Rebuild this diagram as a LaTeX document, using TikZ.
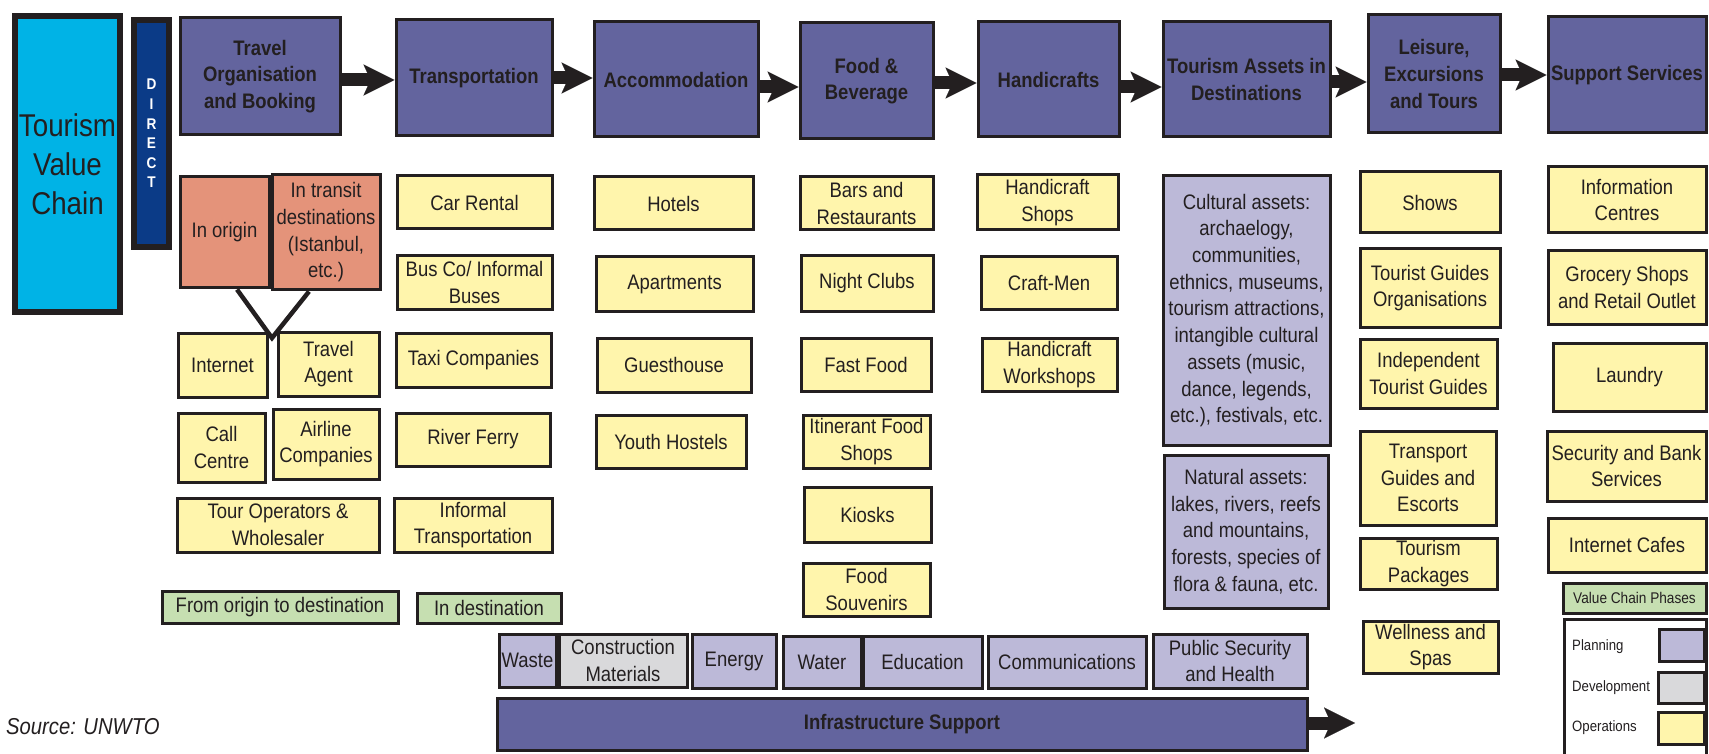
\documentclass[tikz,border=0pt]{standalone}
\usepackage{fontspec}
\setmainfont[FakeStretch=0.88]{Liberation Sans}
\usetikzlibrary{arrows.meta}
\definecolor{topc}{HTML}{63649E}
\definecolor{plan}{HTML}{BCB9D8}
\definecolor{yel}{HTML}{FFF5AC}
\definecolor{sal}{HTML}{E4937A}
\definecolor{grn}{HTML}{C6DFB1}
\definecolor{gry}{HTML}{D9D9DB}
\definecolor{cyanc}{HTML}{00B3E6}
\definecolor{navy}{HTML}{0B3B87}
\definecolor{txt}{HTML}{231F20}
\newcommand\fs[2]{\fontsize{#1}{#2}\selectfont}
\newcommand\bx[7]{\node[#2,minimum width={(#5)-(#3)},minimum height={(#6)-(#4)}] (#1) at ({((#3)+(#5))/2},{((#4)+(#6))/2}) {#7};}
\tikzset{
  base/.style={draw=txt,line width=3pt,inner sep=1pt,align=center,text=txt,font=\fs{21}{26.7}},
  topbox/.style={base,fill=topc,font=\fs{21}{26.7}\bfseries},
  yb/.style={base,fill=yel},
  pb/.style={base,fill=plan},
  gb/.style={base,fill=gry},
  sb/.style={base,fill=sal},
  grb/.style={base,fill=grn},
  bigarrow/.style={draw=txt,line width=13pt,-{Stealth[length=31pt,width=31pt,inset=7pt,line width=0.1pt]}},
  vline/.style={draw=txt,line width=4.5pt},
  legtext/.style={anchor=west,inner sep=0pt,text=txt,font=\fs{15}{18}}
}
\begin{document}
\begin{tikzpicture}[x=1pt,y=-1pt]
\useasboundingbox (0,0) rectangle (1709,754);
\fill[white] (0,0) rectangle (1709,754);
% left labels
\bx{tvc}{base,fill=cyanc,line width=6pt,inner sep=0pt,font=\fs{31.5}{39}}{15}{16}{120}{312}{Tourism\\Value\\Chain}
\bx{direct}{base,fill=navy,line width=6pt,text=white,font=\fs{15.5}{19.6}\bfseries}{134}{20}{169}{247}{D\\I\\R\\E\\C\\T}
% top row
\bx{travel}{topbox}{180}{18}{340}{135}{Travel\\Organisation\\and Booking}
\bx{transport}{topbox}{396}{20}{552}{136}{Transportation}
\bx{accom}{topbox}{594}{22}{758}{137}{Accommodation}
\bx{food}{topbox}{800}{23}{933}{139}{Food \&\\Beverage}
\bx{handi}{topbox}{978}{22}{1119}{137}{Handicrafts}
\bx{assets}{topbox}{1163}{22}{1330}{137}{Tourism Assets in\\Destinations}
\bx{leisure}{topbox}{1368}{15}{1500}{133}{Leisure,\\Excursions\\and Tours}
\bx{support}{topbox}{1548}{17}{1706}{133}{Support Services}
\draw[bigarrow] (travel.east |- 0,80) -- (transport.west |- 0,80);
\draw[bigarrow] (transport.east |- 0,78) -- (accom.west |- 0,78);
\draw[bigarrow] (accom.east |- 0,87) -- (food.west |- 0,87);
\draw[bigarrow] (food.east |- 0,83) -- (handi.west |- 0,83);
\draw[bigarrow] (handi.east |- 0,87) -- (assets.west |- 0,87);
\draw[bigarrow] (assets.east |- 0,82) -- (leisure.west |- 0,82);
\draw[bigarrow] (leisure.east |- 0,75) -- (support.west |- 0,75);
% travel column
\bx{inorigin}{sb}{180}{177}{269}{288}{In origin}
\bx{intransit}{sb}{272}{175}{380}{290}{In transit\\destinations\\(Istanbul,\\etc.)}
\bx{internet}{yb}{178}{333}{267}{397}{Internet}
\bx{agent}{yb}{278}{332}{379}{396}{Travel\\Agent}
\bx{callc}{yb}{178}{413}{265}{482}{Call\\Centre}
\bx{airline}{yb}{273}{409}{379}{479}{Airline\\Companies}
\bx{tourop}{yb}{177}{498}{379}{552}{Tour Operators \&\\Wholesaler}
\coordinate (vtip) at (272,338);
\draw[vline] ([xshift=12.5pt]inorigin.south) -- (vtip) -- ([xshift=-17pt]intransit.south);
% transportation column
\bx{car}{yb}{397}{176}{552}{229}{Car Rental}
\bx{bus}{yb}{397}{256}{552}{309}{Bus Co/ Informal\\Buses}
\bx{taxi}{yb}{396}{333}{551}{387}{Taxi Companies}
\bx{ferry}{yb}{396}{413}{550}{466}{River Ferry}
\bx{informal}{yb}{394}{498}{552}{552}{Informal\\Transportation}
% phase labels
\bx{fromorigin}{grb}{162}{591}{398}{623}{From origin to destination}
\bx{indest}{grb}{417}{593}{561}{623}{In destination}
% accommodation column
\bx{hotels}{yb}{594}{177}{753}{230}{Hotels}
\bx{apart}{yb}{596}{257}{753}{311}{Apartments}
\bx{guest}{yb}{597}{338}{751}{392}{Guesthouse}
\bx{youth}{yb}{596}{415}{746}{468}{Youth Hostels}
% food column
\bx{bars}{yb}{800}{177}{933}{230}{Bars and\\Restaurants}
\bx{night}{yb}{801}{256}{933}{311}{Night Clubs}
\bx{fast}{yb}{801}{338}{931}{391}{Fast Food}
\bx{itin}{yb}{803}{415}{930}{468}{Itinerant Food\\Shops}
\bx{kiosk}{yb}{804}{487}{931}{542}{Kiosks}
\bx{fsouv}{yb}{803}{563}{930}{616}{Food\\Souvenirs}
% handicrafts column
\bx{hshops}{yb}{977}{175}{1118}{230}{Handicraft\\Shops}
\bx{craft}{yb}{981}{257}{1117}{309}{Craft-Men}
\bx{hwork}{yb}{982}{338}{1117}{391}{Handicraft\\Workshops}
% tourism assets column
\bx{cultural}{pb}{1163}{176}{1330}{445}{Cultural assets:\\archaelogy,\\communities,\\ethnics, museums,\\tourism attractions,\\intangible cultural\\assets (music,\\dance, legends,\\etc.), festivals, etc.}
\bx{natural}{pb}{1164}{455}{1328}{608}{Natural assets:\\lakes, rivers, reefs\\and mountains,\\forests, species of\\flora \& fauna, etc.}
% leisure column
\bx{shows}{yb}{1360}{172}{1500}{233}{Shows}
\bx{tgo}{yb}{1360}{249}{1500}{327}{Tourist Guides\\Organisations}
\bx{itg}{yb}{1360}{339}{1497}{408}{Independent\\Tourist Guides}
\bx{tge}{yb}{1360}{431}{1496}{525}{Transport\\Guides and\\Escorts}
\bx{tpack}{yb}{1360}{538}{1497}{589}{Tourism\\Packages}
\bx{well}{yb}{1363}{621}{1498}{673}{Wellness and\\Spas}
% support column
\bx{info}{yb}{1548}{167}{1706}{233}{Information\\Centres}
\bx{grocery}{yb}{1548}{251}{1706}{324}{Grocery Shops\\and Retail Outlet}
\bx{laundry}{yb}{1553}{343}{1706}{411}{Laundry}
\bx{secbank}{yb}{1547}{431}{1706}{501}{Security and Bank\\Services}
\bx{icafe}{yb}{1548}{518}{1706}{572}{Internet Cafes}
% infrastructure row
\bx{waste}{pb}{499}{634}{556}{687}{Waste}
\bx{constr}{gb}{559}{634}{687}{687}{Construction\\Materials}
\bx{energy}{pb}{692}{634}{776}{688}{Energy}
\bx{water}{pb}{783}{636}{861}{688}{Water}
\bx{educ}{pb}{863}{636}{982}{688}{Education}
\bx{comm}{pb}{988}{636}{1146}{688}{Communications}
\bx{pubsec}{pb}{1153}{634}{1307}{688}{Public Security\\and Health}
\bx{infra}{topbox}{497}{698}{1307}{750}{Infrastructure Support}
\coordinate (infraend) at (1355,723);
\draw[bigarrow] (infra.east |- infraend) -- (infraend);
% legend
\bx{vcp}{grb,font=\fs{15.5}{18}}{1563}{583}{1706}{613}{Value Chain Phases}
\bx{legend}{base,fill=white}{1564}{619}{1706}{772}{}
\bx{swplan}{pb}{1659}{629}{1704}{661}{}
\bx{swdev}{gb}{1658}{672}{1704}{703}{}
\bx{swops}{yb}{1658}{712}{1704}{744}{}
\node[legtext] (lplan) at (1572,647) {Planning};
\node[legtext] (ldev) at (1572,688) {Development};
\node[legtext] (lops) at (1572,728) {Operations};
% source
\node[anchor=west,inner sep=0pt,text=txt,font=\fs{23}{26}\itshape] (source) at (6,727) {Source: UNWTO};
\end{tikzpicture}
\end{document}
